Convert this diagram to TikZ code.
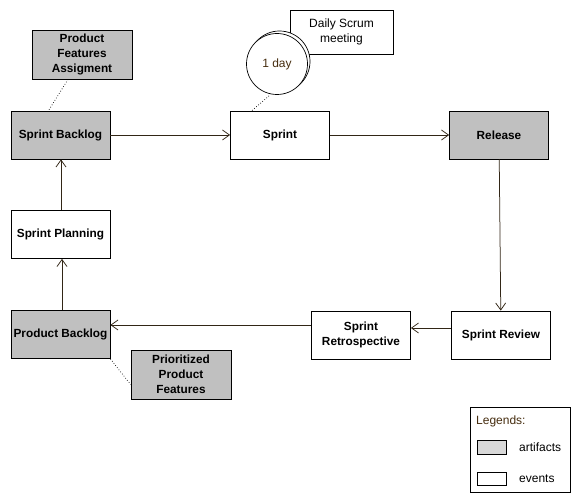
\documentclass[tikz,border=0pt]{standalone}
\usepackage{fontspec}
\setmainfont{Liberation Sans}
\usetikzlibrary{arrows.meta}
\definecolor{artgray}{RGB}{192,192,192}
\definecolor{legendgray}{RGB}{216,216,216}
\definecolor{flowline}{RGB}{50,38,22}
\definecolor{softink}{RGB}{70,45,15}
\begin{document}
\begin{tikzpicture}[x=1pt,y=-1pt,
  box/.style={draw=black, line width=0.8pt, minimum width=99pt, minimum height=48pt,
    inner sep=1pt, align=center, font=\bfseries\fontsize{11.8}{15}\selectfont},
  artifact/.style={box, fill=artgray},
  event/.style={box, fill=white},
  flow/.style={draw=flowline, line width=0.75pt, -{Straight Barb[length=7pt,width=10pt,line width=0.75pt]}},
  link/.style={draw=black, line width=0.7pt, dotted},
  plain/.style={font=\fontsize{12}{15}\selectfont, inner sep=0pt}]
\useasboundingbox (0,0) rectangle (581,502);

% artifacts and events of the cycle
\node[artifact] (sbacklog) at (60.5,135) {Sprint Backlog};
\node[event]    (sprint)   at (280,135)  {Sprint};
\node[artifact] (release)  at (499,135)  {Release};
\node[event]    (planning) at (60.5,234.5) {Sprint Planning};
\node[artifact] (pbacklog) at (60.5,334.5) {Product Backlog};
\node[event]    (retro)    at (361,335)  {Sprint\\Retrospective};
\node[event]    (review)   at (501,335)  {Sprint Review};

% notes attached to the artifacts
\node[artifact, minimum width=100pt, minimum height=49pt] (assign) at (82,54.5) {Product\\Features\\Assigment};
\node[artifact, minimum width=100pt, minimum height=49pt] (prior) at (181,374.5) {Prioritized\\Product\\Features};

% daily scrum note with the stacked time circles
\node[draw=black, line width=0.8pt, fill=white, minimum width=103pt, minimum height=44pt,
  inner sep=1pt, align=center, font=\fontsize{12}{15}\selectfont] (daily) at (341.5,32) {Daily Scrum\\meeting};
\node[circle, draw=black, line width=0.7pt, fill=white, minimum size=61pt, inner sep=0pt] (dayback) at (279.5,61.5) {};
\node[circle, draw=black, line width=0.7pt, fill=white, minimum size=61pt, inner sep=0pt,
  text=softink, font=\fontsize{12}{15}\selectfont] (day) at (277,64) {1 day};

% dotted attachments
\draw[link] (assign.south) ++(-14,0) coordinate (assignfoot) -- ([xshift=-12pt]sbacklog.north);
\draw[link] (day.south) ++(-8,1) coordinate (dayfoot) -- ([xshift=-28pt]sprint.north);
\draw[link] (pbacklog.south east) -- ([yshift=-10pt]prior.west);

% process flow
\draw[flow] (sbacklog) -- (sprint);
\draw[flow] (sprint) -- (release);
\draw[flow] (release) -- (review);
\draw[flow] ([yshift=7pt]review.west) -- ([yshift=7pt]retro.east);
\draw[flow] ([yshift=10pt]retro.west) -- ([yshift=9.5pt]pbacklog.east);
\draw[flow] ([xshift=1.5pt]pbacklog.north) -- ([xshift=1.5pt]planning.south);
\draw[flow] ([xshift=0.5pt]planning.north) -- ([xshift=0.5pt]sbacklog.south);

% legend
\node[draw=black, line width=0.8pt, fill=white, minimum width=100pt, minimum height=85pt, inner sep=0pt] (legend) at (520,449.5) {};
\node[plain, anchor=west, text=softink] (legendtitle) at (476,421) {Legends:};
\node[draw=black, line width=0.7pt, fill=legendgray, minimum width=29pt, minimum height=13.5pt, inner sep=0pt] (keyart) at (491.5,447.5) {};
\node[draw=black, line width=0.7pt, fill=white, minimum width=29pt, minimum height=13.5pt, inner sep=0pt] (keyevt) at (491.5,479) {};
\node[plain, anchor=west] (keyarttext) at (519,447) {artifacts};
\node[plain, anchor=west] (keyevttext) at (519,478.5) {events};
\end{tikzpicture}
\end{document}
